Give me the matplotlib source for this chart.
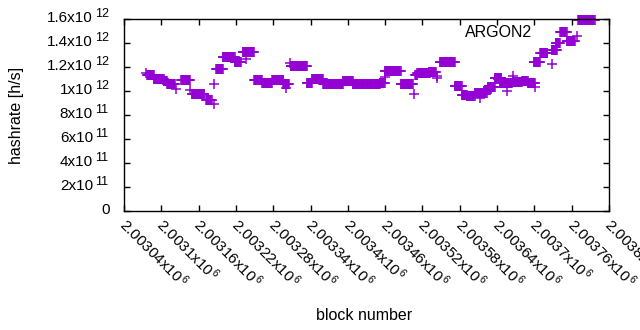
import numpy as np
import matplotlib
matplotlib.use("Agg")
import matplotlib.pyplot as plt
from matplotlib.transforms import ScaledTranslation

# plateaus of the hashrate estimate: first block, last block, hashrate [h/s]
seg_start = [2003077, 2003088, 2003104, 2003109, 2003132, 2003149, 2003172, 2003188,
             2003199, 2003218, 2003231, 2003249, 2003262, 2003278, 2003296, 2003308,
             2003334, 2003342, 2003360, 2003392, 2003408, 2003451, 2003459, 2003485,
             2003508, 2003512, 2003530, 2003548, 2003572, 2003583, 2003591, 2003604,
             2003620, 2003625, 2003636, 2003644, 2003665, 2003680, 2003689, 2003699,
             2003709, 2003728, 2003734, 2003741, 2003752, 2003770]
seg_end = [2003088, 2003104, 2003109, 2003122, 2003146, 2003169, 2003181, 2003199,
           2003218, 2003228, 2003249, 2003262, 2003278, 2003296, 2003305, 2003334,
           2003342, 2003360, 2003392, 2003408, 2003451, 2003459, 2003485, 2003504,
           2003512, 2003532, 2003541, 2003572, 2003583, 2003591, 2003604, 2003623,
           2003628, 2003636, 2003647, 2003664, 2003680, 2003689, 2003701, 2003709,
           2003721, 2003736, 2003741, 2003752, 2003765, 2003797]
seg_rate = [1.13e12, 1.10e12, 1.085e12, 1.06e12, 1.09e12, 0.975e12, 0.925e12, 1.18e12,
            1.28e12, 1.245e12, 1.325e12, 1.09e12, 1.07e12, 1.09e12, 1.06e12, 1.21e12,
            1.07e12, 1.10e12, 1.06e12, 1.08e12, 1.055e12, 1.07e12, 1.165e12, 1.06e12,
            1.13e12, 1.15e12, 1.16e12, 1.24e12, 1.04e12, 0.97e12, 0.96e12, 0.985e12,
            1.01e12, 1.03e12, 1.11e12, 1.065e12, 1.075e12, 1.08e12, 1.07e12, 1.245e12,
            1.315e12, 1.345e12, 1.40e12, 1.49e12, 1.42e12, 1.59e12]

# single blocks off their plateau
odd_block = [2003076, 2003123, 2003146, 2003185, 2003185, 2003237, 2003300, 2003307,
             2003460, 2003506, 2003543, 2003543, 2003612, 2003641, 2003656, 2003665,
             2003701, 2003728, 2003768]
odd_rate = [1.147e12, 1.02e12, 1.01e12, 0.89e12, 1.06e12, 1.27e12, 1.025e12, 1.235e12,
            1.115e12, 0.975e12, 1.125e12, 1.11e12, 0.94e12, 1.10e12, 1.0e12, 1.125e12,
            1.03e12, 1.225e12, 1.46e12]

x_ticks = list(range(2003040, 2003821, 60))
y_ticks = [0, 2e11, 4e11, 6e11, 8e11, 1e12, 1.2e12, 1.4e12, 1.6e12]
y_base = ["0", "2x10", "4x10", "6x10", "8x10", "1x10", "1.2x10", "1.4x10", "1.6x10"]
y_exp = ["", "11", "11", "11", "11", "12", "12", "12", "12"]

plt.rcParams['font.family'] = ['Liberation Sans', 'DejaVu Sans']
plt.rcParams['mathtext.fontset'] = 'custom'
plt.rcParams['mathtext.rm'] = 'Liberation Sans'
plt.rcParams['mathtext.it'] = 'Liberation Sans'

purple = '#9400d3'
fig = plt.figure(figsize=(6.4, 3.3), dpi=100)
ax = fig.add_axes([124 / 640, 1 - 211 / 330, 485 / 640, 192 / 330])

# every block of a plateau carries the plateau's value
bx, by = [], []
for s, e, r in zip(seg_start, seg_end, seg_rate):
    blocks = np.arange(s, e + 1)
    bx.extend(blocks)
    by.extend([r] * len(blocks))
ax.plot(bx, by, linestyle='none', marker='+', markersize=7, markeredgewidth=1.1,
        color=purple, clip_on=False)
ax.plot(odd_block, odd_rate, linestyle='none', marker='+', markersize=7,
        markeredgewidth=1.1, color=purple)

ax.set_xlim(2003040, 2003820)
ax.set_ylim(0, 1.6e12)
ax.set_xticks(x_ticks)
ax.set_xticklabels(["%gx10$^{\\,6}$" % (t / 1e6) for t in x_ticks], rotation=-45,
                   ha='left', va='top', rotation_mode='anchor')
ax.set_yticks(y_ticks)
ax.set_yticklabels([])
ax.tick_params(direction='in', length=4, width=1, top=True, right=True)
ax.tick_params(axis='x', labelsize=11, pad=3)
shift = ScaledTranslation(5 / 100, 0, fig.dpi_scale_trans)
for lbl in ax.get_xticklabels():
    lbl.set_transform(lbl.get_transform() + shift)
for sp in ax.spines.values():
    sp.set_linewidth(1)

# y tick labels in gnuplot style: mantissa, then a raised exponent
ytr = ax.get_yaxis_transform()
for v, base, ex in zip(y_ticks, y_base, y_exp):
    if ex:
        ax.annotate(base, xy=(0, v), xycoords=ytr, xytext=(-31, 1),
                    textcoords='offset pixels', ha='right', va='center', fontsize=11)
        ax.annotate(ex, xy=(0, v), xycoords=ytr, xytext=(-29, 5),
                    textcoords='offset pixels', ha='left', va='center', fontsize=9)
    else:
        ax.annotate(base, xy=(0, v), xycoords=ytr, xytext=(-14, 1),
                    textcoords='offset pixels', ha='right', va='center', fontsize=11)

ax.text(0.841, 0.932, "ARGON2", transform=ax.transAxes, ha='right', va='center',
        fontsize=11.5)
fig.text(364 / 640, 1 - 316 / 330, "block number", ha='center', va='center', fontsize=11.5)
fig.text(17 / 640, 1 - 115 / 330, "hashrate [h/s]", ha='center', va='center',
         rotation=90, fontsize=11.5)

fig.savefig("out.png", dpi=100)
